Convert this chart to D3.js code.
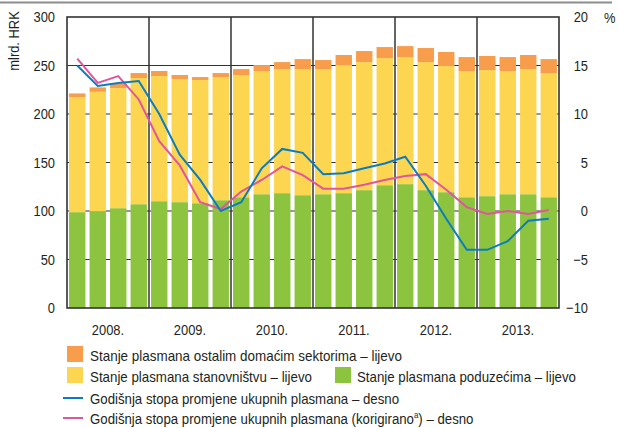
<!DOCTYPE html>
<html>
<head>
<meta charset="utf-8">
<script src="https://cdn.jsdelivr.net/npm/d3@7"></script>
<style>
  html, body { margin: 0; padding: 0; background: #fff; }
  svg { display: block; }
  text { font-family: "Liberation Sans", Arial, sans-serif; fill: #231f20; }
</style>
</head>
<body>
<svg id="chart" width="619" height="428"></svg>
<script>
const years = ["2008.", "2009.", "2010.", "2011.", "2012.", "2013."];
const quarters = years.flatMap(y => ["Q1", "Q2", "Q3", "Q4"].map(q => y + q));

// mlrd. HRK (left axis)
const poduzeca     = [98.8, 99.8, 102.9, 107.0, 110.1, 109.1, 108.0, 111.1, 114.2, 117.3, 118.4, 116.3, 117.3, 118.4, 121.5, 126.6, 127.7, 121.5, 119.4, 114.2, 115.3, 117.3, 117.3, 114.2];
const stanovnistvo = [118.6, 123.1, 123.8, 130.1, 129.0, 126.9, 127.0, 127.0, 126.0, 127.0, 127.9, 130.0, 129.0, 132.1, 132.0, 131.0, 131.0, 132.0, 130.0, 130.1, 130.0, 127.0, 129.0, 128.0];
const ostali       = [3.8, 4.5, 4.8, 5.1, 5.2, 4.2, 3.1, 4.1, 6.1, 6.2, 7.2, 10.3, 9.3, 10.3, 11.4, 11.4, 11.3, 14.5, 14.5, 14.4, 14.5, 14.4, 14.5, 14.4];

// % (right axis)
const stopa           = [15.0, 12.9, 13.2, 13.4, 10.0, 5.8, 3.2, 0.0, 0.9, 4.4, 6.4, 6.0, 3.8, 3.9, 4.4, 4.9, 5.6, 2.6, -0.8, -4.0, -4.0, -3.1, -1.0, -0.8];
const stopaKorigirano = [15.7, 13.2, 13.9, 11.5, 7.2, 4.7, 0.9, 0.2, 2.0, 3.2, 4.6, 3.7, 2.3, 2.3, 2.7, 3.2, 3.6, 3.8, 2.2, 0.4, -0.3, 0.0, -0.3, 0.1];

const leftTicks = [0, 50, 100, 150, 200, 250, 300];
const rightTicks = [-10, -5, 0, 5, 10, 15, 20];

const legendLabels = [
  "Stanje plasmana ostalim domaćim sektorima – lijevo",
  "Stanje plasmana stanovništvu – lijevo",
  "Stanje plasmana poduzećima – lijevo",
  "Godišnja stopa promjene ukupnih plasmana – desno",
  "Godišnja stopa promjene ukupnih plasmana (korigirano",
  ") – desno"
];

const colors = {
  poduzeca: "#8dc43f",
  stanovnistvo: "#fdd651",
  ostali: "#f79d4b",
  stopa: "#0a7dc1",
  korig: "#e0559c"
};

const svg = d3.select("#chart");
const x0 = 67, x1 = 559, yTop = 17, yBot = 308;

const x = d3.scaleBand().domain(quarters).range([x0, x1]).paddingInner(0.2).paddingOuter(0.1);
const yL = d3.scaleLinear().domain([0, 300]).range([yBot, yTop]);
const yR = d3.scaleLinear().domain([-10, 20]).range([yBot, yTop]);

// narrow helper: compress text horizontally to mimic condensed face
function narrow(sel, f = 0.86) {
  sel.each(function () {
    const n = this.getComputedTextLength();
    if (n > 0) d3.select(this).attr("textLength", n * f).attr("lengthAdjust", "spacingAndGlyphs");
  });
}

// top rule
svg.append("line").attr("x1", 0).attr("x2", 612).attr("y1", 2.5).attr("y2", 2.5)
  .attr("stroke", "#8c8c8c").attr("stroke-width", 2);

// horizontal grid
svg.append("g").selectAll("line").data(leftTicks.slice(1, -1)).join("line")
  .attr("x1", x0).attr("x2", x1)
  .attr("y1", d => yL(d)).attr("y2", d => yL(d))
  .attr("stroke", "#333").attr("stroke-width", 1.2);

// year separators
const yearBounds = years.slice(1).map(y => (x(y + "Q1") - x.step() * x.paddingInner() / 2));
svg.append("g").selectAll("line").data(yearBounds).join("line")
  .attr("x1", d => d).attr("x2", d => d).attr("y1", yTop).attr("y2", yBot)
  .attr("stroke", "#333").attr("stroke-width", 1.5);

// stacked bars
const table = quarters.map((q, i) => ({ q, poduzeca: poduzeca[i], stanovnistvo: stanovnistvo[i], ostali: ostali[i] }));
const stack = d3.stack().keys(["poduzeca", "stanovnistvo", "ostali"])(table);
svg.append("g").selectAll("g").data(stack).join("g")
  .attr("fill", d => colors[d.key])
  .selectAll("rect").data(d => d).join("rect")
  .attr("x", d => x(d.data.q)).attr("width", x.bandwidth())
  .attr("y", d => yL(d[1])).attr("height", d => yL(d[0]) - yL(d[1]));

// lines
const line = d3.line().x((d, i) => x(quarters[i]) + x.bandwidth() / 2).y(d => yR(d));
svg.append("path").datum(stopaKorigirano).attr("d", line)
  .attr("fill", "none").attr("stroke", colors.korig).attr("stroke-width", 2);
svg.append("path").datum(stopa).attr("d", line)
  .attr("fill", "none").attr("stroke", colors.stopa).attr("stroke-width", 2);

// frame
svg.append("rect").attr("x", x0).attr("y", yTop).attr("width", x1 - x0).attr("height", yBot - yTop)
  .attr("fill", "none").attr("stroke", "#333").attr("stroke-width", 1.6);

// axes (labels only)
const axL = svg.append("g").attr("transform", `translate(${x0 - 12},0)`)
  .call(d3.axisLeft(yL).tickValues(leftTicks).tickSize(0).tickPadding(0));
axL.select(".domain").remove();
axL.selectAll("text").attr("font-size", 15).attr("font-family", null).attr("fill", "#231f20").call(narrow);

const axR = svg.append("g").attr("transform", `translate(${x1 + 29},0)`)
  .call(d3.axisRight(yR).tickValues(rightTicks).tickSize(0).tickPadding(0)
    .tickFormat(d => d < 0 ? "\u2212" + Math.abs(d) : d));
axR.select(".domain").remove();
axR.selectAll("text").attr("font-size", 15).attr("font-family", null).attr("fill", "#231f20")
  .attr("text-anchor", "end").call(narrow);

// year labels
svg.append("g").selectAll("text").data(years).join("text")
  .attr("x", y => (x(y + "Q1") + x(y + "Q4") + x.bandwidth()) / 2)
  .attr("y", yBot + 27)
  .attr("text-anchor", "middle").attr("font-size", 15).text(d => d).call(narrow);

// axis titles
svg.append("text").attr("transform", "translate(19,41) rotate(-90)")
  .attr("text-anchor", "middle").attr("font-size", 15).text("mlrd. HRK").call(narrow);
svg.append("text").attr("x", 604).attr("y", 23).attr("font-size", 15).text("%").call(narrow);

// legend
const lg = svg.append("g");
const rects = [
  { c: colors.ostali, x: 67, y: 346, tx: 90, ty: 361, t: legendLabels[0], w: 312 },
  { c: colors.stanovnistvo, x: 67, y: 367, tx: 90, ty: 382, t: legendLabels[1], w: 222 },
  { c: colors.poduzeca, x: 335, y: 367, tx: 357, ty: 382, t: legendLabels[2], w: 219 }
];
rects.forEach(r => {
  lg.append("rect").attr("x", r.x).attr("y", r.y).attr("width", 16).attr("height", 16).attr("fill", r.c);
  lg.append("text").attr("x", r.tx).attr("y", r.ty).attr("font-size", 15)
    .attr("textLength", r.w).attr("lengthAdjust", "spacingAndGlyphs").text(r.t);
});
lg.append("line").attr("x1", 63).attr("x2", 83).attr("y1", 398).attr("y2", 398)
  .attr("stroke", colors.stopa).attr("stroke-width", 2);
lg.append("text").attr("x", 90).attr("y", 404).attr("font-size", 15)
  .attr("textLength", 309).attr("lengthAdjust", "spacingAndGlyphs").text(legendLabels[3]);
lg.append("line").attr("x1", 63).attr("x2", 83).attr("y1", 418).attr("y2", 418)
  .attr("stroke", colors.korig).attr("stroke-width", 2);

// last legend row: condensed via horizontal scale of a group (keeps superscript in place)
const g4 = lg.append("g");
const t4 = g4.append("text").attr("x", 0).attr("y", 0).attr("font-size", 15);
t4.append("tspan").text(legendLabels[4]);
t4.append("tspan").attr("font-size", 9).attr("dy", -6).text("a");
t4.append("tspan").attr("dy", 6).text(legendLabels[5]);
const w4 = t4.node().getComputedTextLength() || 446;
g4.attr("transform", `translate(90,424) scale(${384 / w4},1)`);
</script>
</body>
</html>
